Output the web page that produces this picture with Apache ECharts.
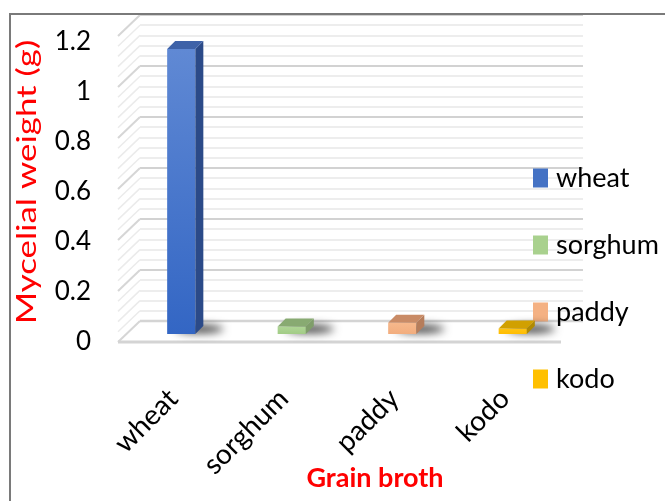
<!DOCTYPE html>
<html>
<head>
<meta charset="utf-8">
<script src="https://cdn.jsdelivr.net/npm/echarts@6/dist/echarts.min.js"></script>
<style>
html,body{margin:0;padding:0;background:#fff;}
#chart{width:665px;height:501px;}
</style>
</head>
<body>
<div id="chart"></div>
<script>
// ---- data ----
const categories = ['wheat', 'sorghum', 'paddy', 'kodo'];
const values = [1.14, 0.03, 0.045, 0.022];
const yMin = 0, yMax = 1.2, yStep = 0.2;
const yTitle = 'Mycelial weight (g)';
const xTitle = 'Grain broth';

// ---- style ----
const palette = [
  { legend: '#4472C4', frontTop: '#6089d4', frontBot: '#3366c4', side: '#2b4a88', top: '#3e62a8' },
  { legend: '#A9D18E', frontTop: '#afd596', frontBot: '#a2cc86', side: '#7f9e6a', top: '#88aa72' },
  { legend: '#F4B183', frontTop: '#f6b88c', frontBot: '#f2ad7e', side: '#b67d5b', top: '#c98b66' },
  { legend: '#FFC000', frontTop: '#ffc414', frontBot: '#ffbd00', side: '#b08a00', top: '#d1a000' }
];
const FONT = 'Lato';
const DX = -22, DY = 21;   // oblique depth offset of the 3D floor/walls

function renderBar(params, api) {
  const pal = palette[params.seriesIndex];
  const cat = api.value(0), v = api.value(1);
  const b = api.coord([cat, 0]);
  const t = api.coord([cat, v]);
  const bw = api.size([1, 0])[0] * 0.255;
  const off = 8, d = 8;
  const x0 = b[0] + off - bw / 2, x1 = x0 + bw;
  const yb = b[1] - off, yt = t[1] - off;
  const FAR = 2000;
  return {
    type: 'group',
    children: [
      // soft floor shadow (shape drawn off-screen, only its blurred shadow is visible)
      { type: 'ellipse', shape: { cx: x1 + 4 + FAR, cy: yb - d / 2 - 1, rx: bw / 2 + 10, ry: 4 },
        style: { fill: '#000', shadowBlur: 9, shadowColor: 'rgba(0,0,0,0.75)', shadowOffsetX: -FAR } },
      { type: 'rect', shape: { x: x0, y: yt, width: bw, height: Math.max(yb - yt, 0.5) },
        style: { fill: new echarts.graphic.LinearGradient(0, 0, 0, 1, [
          { offset: 0, color: pal.frontTop }, { offset: 1, color: pal.frontBot }]) } },
      { type: 'polygon', shape: { points: [[x1, yt], [x1 + d, yt - d], [x1 + d, yb - d], [x1, yb]] },
        style: { fill: pal.side } },
      { type: 'polygon', shape: { points: [[x0, yt], [x0 + d, yt - d], [x1 + d, yt - d], [x1, yt]] },
        style: { fill: pal.top } }
    ]
  };
}

const chart = echarts.init(document.getElementById('chart'), null, { renderer: 'canvas' });

const series = categories.map((name, i) => ({
  type: 'custom',
  name: name,
  xAxisIndex: 1,
  yAxisIndex: 1,
  z: 5,
  renderItem: renderBar,
  itemStyle: { color: palette[i].legend },
  encode: { x: 0, y: 1 },
  data: [[i, values[i]]]
}));

const option = {
  animation: false,
  backgroundColor: '#ffffff',
  grid: [
    { left: 140, right: 82, top: 15, bottom: 180 },   // back wall
    { left: 118, right: 105, top: 42, bottom: 159 }   // front plane
  ],
  xAxis: [
    { gridIndex: 0, type: 'value', min: 0, max: 1, show: false },
    { gridIndex: 1, type: 'category', data: categories,
      axisLine: { show: false }, axisTick: { show: false }, splitLine: { show: false },
      axisLabel: { rotate: 45, fontSize: 28, fontFamily: FONT, color: '#000', margin: 52, interval: 0 } },
    { gridIndex: 1, type: 'value', min: 0, max: 1, show: false }
  ],
  yAxis: [
    { gridIndex: 0, type: 'value', min: yMin, max: yMax, interval: yStep,
      axisLabel: { show: false }, axisLine: { show: false }, axisTick: { show: false },
      splitLine: { show: true, lineStyle: { color: '#d2d2d2', width: 2 } },
      minorTick: { show: false, splitNumber: 5 },
      minorSplitLine: { show: true, lineStyle: { color: '#e8e8e8', width: 1.5 } } },
    { gridIndex: 1, type: 'value', min: yMin, max: yMax, interval: yStep,
      axisLine: { show: false }, axisTick: { show: false }, splitLine: { show: false },
      axisLabel: { fontSize: 26, fontFamily: FONT, color: '#000', margin: 27 } }
  ],
  legend: {
    orient: 'vertical',
    left: 533,
    top: 164,
    padding: 0,
    icon: 'rect',
    itemWidth: 15,
    itemHeight: 19,
    itemGap: 39,
    itemStyle: { borderWidth: 0 },
    textStyle: { fontSize: 27, fontFamily: FONT, color: '#000', lineHeight: 28, padding: [0, 0, 0, 3] },
    data: categories
  },
  series: series
};
chart.setOption(option);

// ---- 3D decoration: left wall lines and floor front edge, positioned through the axes ----
const deco = [];
const minorStep = yStep / 5;
const nLines = Math.round((yMax - yMin) / minorStep);
for (let k = 0; k <= nLines; k++) {
  const tv = yMin + k * minorStep;
  const p = chart.convertToPixel({ xAxisIndex: 0, yAxisIndex: 0 }, [0, tv]);
  const major = k % 5 === 0;
  deco.push({
    type: 'line', z: 1, silent: true,
    shape: { x1: p[0], y1: p[1], x2: p[0] + DX, y2: p[1] + DY },
    style: { stroke: major ? '#d6d6d6' : '#ebebeb', lineWidth: major ? 2 : 1.5 }
  });
}
const fl = chart.convertToPixel({ xAxisIndex: 0, yAxisIndex: 0 }, [0, 0]);
const fr = chart.convertToPixel({ xAxisIndex: 0, yAxisIndex: 0 }, [1, 0]);
deco.push({
  type: 'line', z: 1, silent: true,
  shape: { x1: fl[0] + DX, y1: fl[1] + DY, x2: fr[0] + DX, y2: fr[1] + DY },
  style: { stroke: '#d4d4d4', lineWidth: 3 }
});
deco.push({
  type: 'line', z: 1, silent: true,
  shape: { x1: fl[0], y1: fl[1], x2: fr[0], y2: fr[1] },
  style: { stroke: '#d4d4d4', lineWidth: 2.5 }
});
// titles
deco.push({
  type: 'text', z: 10, x: 28, y: 182, rotation: Math.PI / 2, scaleX: 1.34,
  style: { text: yTitle, fontSize: 26, fontFamily: FONT, fill: '#ff0000', align: 'center', verticalAlign: 'middle' }
});
deco.push({
  type: 'text', z: 10, x: 375, y: 478,
  style: { text: xTitle, fontSize: 27, fontWeight: 'bold', fontFamily: FONT, fill: '#ff0000', align: 'center', verticalAlign: 'middle' }
});
// outer frame
deco.push({
  type: 'rect', z: 20, silent: true,
  shape: { x: 10, y: 14, width: 700, height: 600 },
  style: { fill: null, stroke: '#7a7a7a', lineWidth: 2 }
});
chart.setOption({ graphic: deco });
</script>
</body>
</html>
